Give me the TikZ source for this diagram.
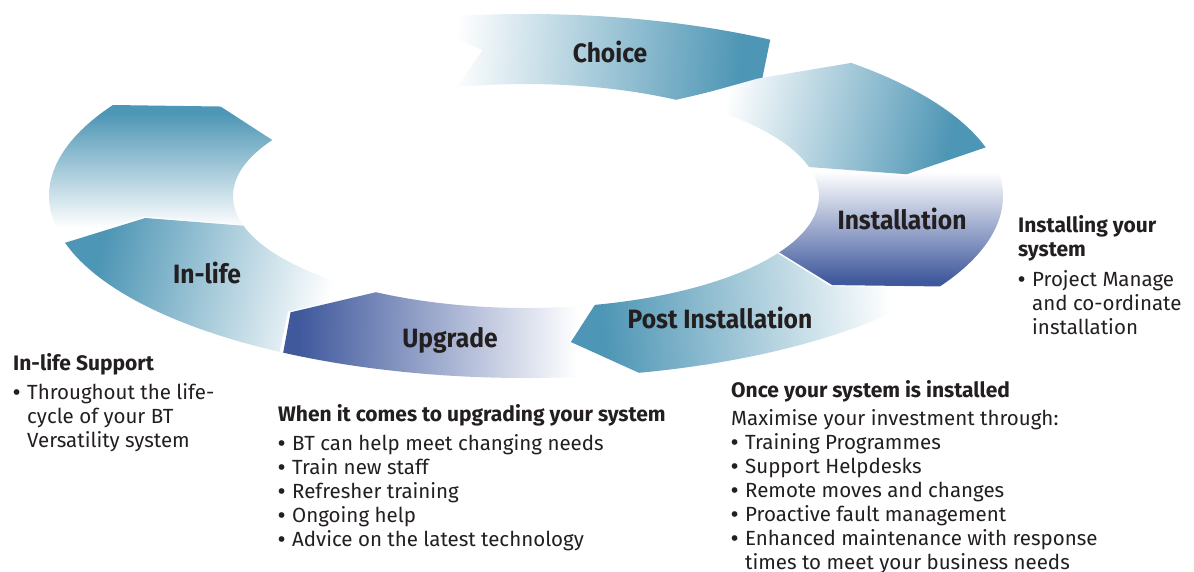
\documentclass[tikz,border=0pt]{standalone}
\usepackage{fontspec}
\setmainfont{Fira Sans}
\newfontfamily\lblfont[FakeStretch=0.93]{Fira Sans}
\definecolor{tealc}{RGB}{78,150,181}
\definecolor{navyc}{RGB}{64,89,157}
\definecolor{txt}{RGB}{35,31,32}
\pgfdeclarehorizontalshading{tealfade}{100bp}{color(0bp)=(white); color(30bp)=(white); color(72bp)=(tealc); color(100bp)=(tealc)}
\pgfdeclarehorizontalshading{navyfade}{100bp}{color(0bp)=(white); color(33bp)=(white); color(73bp)=(navyc); color(100bp)=(navyc)}
\newcommand\ringseg[7]{%
  \path[#1] plot[domain=#2:#5, samples=60, variable=\t] ({526+477*cos(\t)},{196+182*sin(\t)})
   -- ({526+385*cos(#6)},{196+147*sin(#6)})
   -- plot[domain=#7:#4, samples=60, variable=\t] ({526+293*cos(\t)},{196+112*sin(\t)})
   -- ({526+385*cos(#3)},{196+147*sin(#3)}) -- cycle;}
\newcommand\bul{\makebox[14pt][l]{\bfseries •}}
\newcommand\ind{\hspace*{14pt}}
\newcommand\hd[1]{{\fontsize{21}{24}\selectfont\bfseries #1}}
\tikzset{
  lbl/.style={font=\lblfont\fontsize{26.5}{30}\selectfont\bfseries, text=txt, inner sep=0pt, anchor=base},
  blk/.style={font=\fontsize{20.5}{24}\selectfont, text=txt, inner sep=0pt, anchor=north west, align=left},
  tealseg/.style={shade, shading=tealfade, shading angle=#1},
  navyseg/.style={shade, shading=navyfade, shading angle=#1},
}
\begin{document}
\begin{tikzpicture}[x=1pt,y=-1pt]
\fill[white] (0,0) rectangle (1194,571);
\useasboundingbox (0,0) rectangle (1194,571);
% ring segments: tail outer, tail mid, tail inner, head outer, head mid, head inner
\ringseg{tealseg=-4.4}{-104}{-96.5}{-103.6}{-59.2}{-52.2}{-59.2}
\ringseg{tealseg=-12.4}{-47}{-53}{-58.5}{-15.5}{-8.5}{-15}
\ringseg{navyseg=-90}{-14.8}{-7.8}{-14.4}{29.8}{37.3}{30.2}
\ringseg{tealseg=185.4}{30.5}{37.8}{30.8}{76.3}{83.3}{76.4}
\ringseg{navyseg=179.3}{76.8}{83.8}{76.9}{120.6}{127.7}{120.8}
\ringseg{tealseg=167.6}{121.1}{128.2}{121.3}{165.1}{171.4}{164.6}
\ringseg{tealseg=90}{165.6}{172}{165.1}{210}{217.5}{210}
% labels
\node[lbl] (choice) at (610,62) {Choice};
\node[lbl] (install) at (902,229) {Installation};
\node[lbl] (post) at (720,328) {Post Installation};
\node[lbl] (upgrade) at (450,347) {Upgrade};
\node[lbl] (inlife) at (207,283) {In-life};
% text blocks
\node[blk] (inlifetxt) at (13,353.2) {\hd{In-life Support}\strut\\[5pt]
  \bul Throughout the life-\strut\\ \ind cycle of your BT\strut\\ \ind Versatility system\strut};
\node[blk] (upgtxt) at (278,404.2) {\hd{When it comes to upgrading your system}\strut\\[5pt]
  \bul BT can help meet changing needs\strut\\ \bul Train new staff\strut\\ \bul Refresher training\strut\\
  \bul Ongoing help\strut\\ \bul Advice on the latest technology\strut};
\node[blk] (posttxt) at (731,380.2) {\hd{Once your system is installed}\strut\\[4pt]
  Maximise your investment through:\strut\\ \bul Training Programmes\strut\\ \bul Support Helpdesks\strut\\
  \bul Remote moves and changes\strut\\ \bul Proactive fault management\strut\\
  \bul Enhanced maintenance with response\strut\\ \ind times to meet your business needs\strut};
\node[blk] (insttxt) at (1018,215.2) {\hd{Installing your}\strut\\ \hd{system}\strut\\[6pt]
  \bul Project Manage\strut\\ \ind and co-ordinate\strut\\ \ind installation\strut};
\end{tikzpicture}
\end{document}
